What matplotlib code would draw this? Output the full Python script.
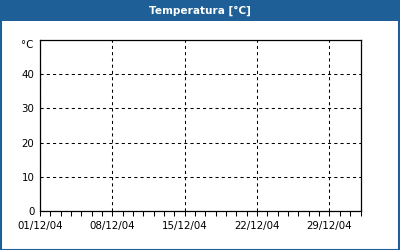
import numpy as np
import pandas as pd
import matplotlib
matplotlib.use('Agg')
import matplotlib.pyplot as plt
import matplotlib.dates as mdates
from matplotlib.patches import Rectangle

#%% data
date_start = '2004-12-01'
date_end = '2005-01-01'
xtick_dates = ['2004-12-01', '2004-12-08', '2004-12-15', '2004-12-22', '2004-12-29']
xtick_labels = ['01/12/04', '08/12/04', '15/12/04', '22/12/04', '29/12/04']
yticks = [0, 10, 20, 30, 40]
y_max = 50
title = 'Temperatura [°C]'
unit = '°C'

#%% plot
blue = '#1d5f96'
fig = plt.figure(figsize=(4, 2.5), dpi=100)
fig.patch.set_facecolor('white')

# title bar and frame
fig.patches.append(Rectangle((0, 229/250), 1, 21/250, transform=fig.transFigure,
                             facecolor=blue, edgecolor='none', zorder=0))
fig.patches.append(Rectangle((0.5/400, 0.5/250), 398.5/400, 248.5/250, transform=fig.transFigure,
                             facecolor='none', edgecolor=blue, linewidth=1.5, zorder=0))
fig.text(0.5, 1 - 10.5/250, title, color='white', fontsize=7.6, fontweight='bold',
         ha='center', va='center')

ax = fig.add_axes([40/400, 39/250, 320.5/400, 171/250])
ax.set_xlim(pd.Timestamp(date_start), pd.Timestamp(date_end))
ax.set_ylim(0, y_max)

ax.set_xticks(pd.to_datetime(xtick_dates))
ax.set_xticklabels(xtick_labels)
ax.xaxis.set_minor_locator(mdates.DayLocator())
ax.set_yticks(yticks)

ax.tick_params(axis='x', which='both', direction='out', length=3.5, width=0.75, labelsize=7.4, pad=4)
ax.tick_params(axis='y', which='both', length=0, labelsize=7.4, pad=4)

ax.grid(True, which='major', color='black', linestyle=(0, (3, 3)), linewidth=0.75)
for s in ax.spines.values():
    s.set_linewidth(0.9)
    s.set_color('black')

ax.text(-0.022, 1 - 5/171, unit, transform=ax.transAxes, fontsize=7.4, ha='right', va='center')

plt.savefig('out.png', dpi=100)
